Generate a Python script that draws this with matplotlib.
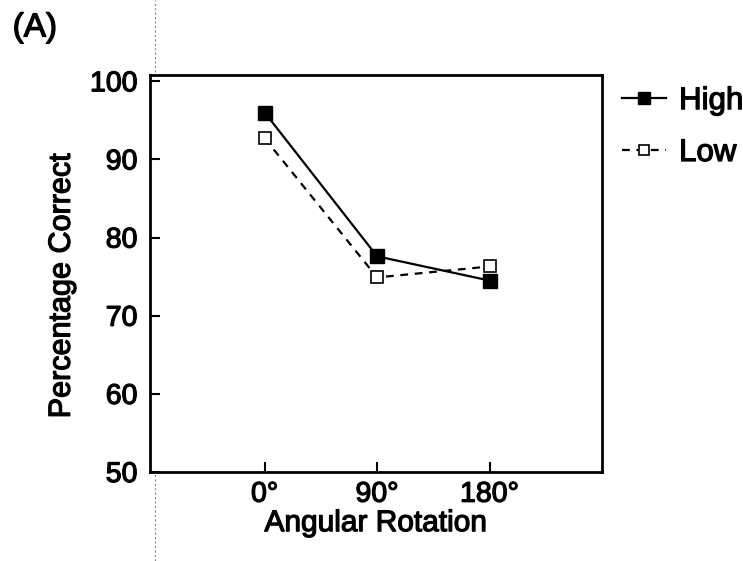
import matplotlib
matplotlib.use("Agg")
import matplotlib.pyplot as plt
import matplotlib.patheffects as pe
from matplotlib.lines import Line2D

plt.rcParams['font.family'] = ['Liberation Sans', 'DejaVu Sans']

angles = ["0°", "90°", "180°"]
high = [96.0, 77.6, 74.5]
low = [92.7, 74.9, 76.3]
yticks = [50, 60, 70, 80, 90, 100]

# slightly heavier strokes for all lettering
heavy = [pe.withStroke(linewidth=0.9, foreground='black')]

fig = plt.figure(figsize=(7.43, 5.61), dpi=100)
ax = fig.add_axes([0.2019, 0.1586, 0.6083, 0.7077])

x = list(range(len(angles)))
ax.plot(x, high, color='black', lw=1.6, ls='-', marker='s', ms=10,
        mfc='black', mec='black', label='High', zorder=3)
ax.plot(x, low, color='black', lw=1.6, ls=(0, (3.5, 3)), marker='s', ms=9.2,
        mfc='white', mec='black', mew=1.2, label='Low', zorder=2)

ax.set_xlim(-1.02, 3.0)
ax.set_ylim(50, 100.8)
ax.set_xticks(x)
ax.set_xticklabels(angles)
ax.set_yticks(yticks)
ax.tick_params(direction='in', length=7, width=1.5, labelsize=20.5, pad=9)
ax.tick_params(axis='x', pad=7)
for s in ax.spines.values():
    s.set_linewidth(2)

ax.set_xlabel('Angular Rotation', fontsize=21.5, labelpad=1)
ax.set_ylabel('Percentage Correct', fontsize=22)
ax.yaxis.set_label_coords(-0.162, 0.468)

leg = ax.legend(loc='upper left', bbox_to_anchor=(1.044, 0.972), frameon=False,
                prop={'size': 22.5}, handlelength=1.4,
                handletextpad=0.43, labelspacing=0.7, borderpad=0,
                borderaxespad=0, markerscale=0.85)

label_a = fig.text(0.017, 1 - 28 / 561, '(A)', fontsize=24,
                   va='center', ha='left')

for t in (ax.get_xticklabels() + ax.get_yticklabels() + leg.get_texts()
          + [ax.xaxis.label, ax.yaxis.label, label_a]):
    t.set_path_effects(heavy)

# faint dotted fold line running down the page
fig.add_artist(Line2D([155 / 743, 155 / 743], [0, 1], transform=fig.transFigure,
                      color='#888888', lw=0.8, ls=(0, (2, 2)), zorder=0))

fig.savefig('out.png', dpi=100)
